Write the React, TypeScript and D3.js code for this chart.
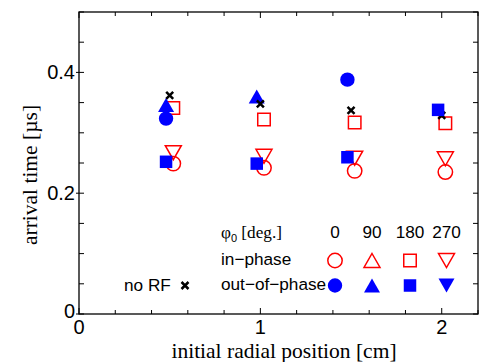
import React from 'react';
import * as d3 from 'd3';

// initial radial position [cm] of each measurement group
const positions = [0.5, 1, 1.5, 2];

// arrival time [µs]
const noRF = [0.362, 0.348, 0.337, 0.329];
const inPhase0 = [0.249, 0.242, 0.237, 0.235];
const inPhase180 = [0.341, 0.322, 0.317, 0.316];
const inPhase270 = [0.267, 0.261, 0.258, 0.257];
const outPhase0 = [0.3235, null, 0.388, null];
const outPhase90 = [0.346, 0.36, null, null];
const outPhase180 = [0.252, 0.249, 0.2595, 0.338];

const phaseLabels = ['0', '90', '180', '270'];
const xTickLabels = [0, 1, 2];
const yTickLabels = [0, 0.2, 0.4];

const RED = '#ff0000';
const BLUE = '#0000ff';

const width = 483;
const height = 362;
const marginLeft = 79;
const marginRight = 5;
const marginTop = 12;
const marginBottom = 48;

const x = d3.scaleLinear().domain([0, 2.2]).range([marginLeft, width - marginRight]);
const y = d3.scaleLinear().domain([0, 0.5]).range([height - marginBottom, marginTop]);

const shift = 0.02;

function circle(cx, cy, r) {
  return `M${cx - r},${cy}a${r},${r} 0 1,0 ${2 * r},0a${r},${r} 0 1,0 ${-2 * r},0Z`;
}
function square(cx, cy, s) {
  const h = s / 2;
  return `M${cx - h},${cy - h}h${s}v${s}h${-s}Z`;
}
function triUp(cx, cy, w, h) {
  return `M${cx},${cy - h / 2}L${cx + w / 2},${cy + h / 2}L${cx - w / 2},${cy + h / 2}Z`;
}
function triDown(cx, cy, w, h) {
  return `M${cx - w / 2},${cy - h / 2}L${cx + w / 2},${cy - h / 2}L${cx},${cy + h / 2}Z`;
}
function cross(cx, cy, s) {
  const h = s / 2;
  return `M${cx - h},${cy - h}L${cx + h},${cy + h}M${cx + h},${cy - h}L${cx - h},${cy + h}`;
}

const shapes = {
  circle: (cx, cy) => circle(cx, cy, 7.2),
  square: (cx, cy) => square(cx, cy, 12.5),
  up: (cx, cy) => triUp(cx, cy, 16, 14),
  down: (cx, cy) => triDown(cx, cy, 16, 14),
};

function Series({ values, dx, shape, filled }) {
  return (
    <g>
      {values.map((v, i) =>
        v == null ? null : (
          <path
            key={i}
            d={shapes[shape](x(positions[i] + dx), y(v))}
            fill={filled ? BLUE : 'none'}
            stroke={filled ? 'none' : RED}
            strokeWidth={1.5}
          />
        )
      )}
    </g>
  );
}

export default function App() {
  const xMinor = d3.range(0, 2.2001, 0.2);
  const yMinor = d3.range(0, 0.5001, 0.05);
  const x0 = x(0), x1 = x(2.2), yb = y(0), yt = y(0.5);
  const isMajorX = (t) => Math.abs(t - Math.round(t)) < 1e-6;
  const isMajorY = (t) => Math.abs(t * 5 - Math.round(t * 5)) < 1e-6;

  const legendCols = [335, 372, 410, 446.5];
  const legendShapes = ['circle', 'up', 'square', 'down'];
  const rowHead = 237.5, rowIn = 260.5, rowOut = 285.5;

  return (
    <svg width={width} height={height} style={{ position: 'absolute', left: 0, top: 0, background: '#fff' }}>
      {/* frame */}
      <rect x={x0} y={yt} width={x1 - x0} height={yb - yt} fill="none" stroke="#000" strokeWidth={1.3} />

      {/* x ticks, bottom and top */}
      {xMinor.map((t, i) => {
        const len = isMajorX(t) ? 6 : 4;
        return (
          <g key={'xt' + i} stroke="#000" strokeWidth={1}>
            <line x1={x(t)} x2={x(t)} y1={yb} y2={yb - len} />
            <line x1={x(t)} x2={x(t)} y1={yt} y2={yt + len} />
          </g>
        );
      })}
      {/* y ticks, left and right */}
      {yMinor.map((t, i) => {
        const major = isMajorY(t);
        return (
          <g key={'yt' + i} stroke="#000" strokeWidth={1}>
            <line x1={x0 - (major ? 3 : 0)} x2={x0 + 5} y1={y(t)} y2={y(t)} />
            <line x1={x1} x2={x1 - 5} y1={y(t)} y2={y(t)} />
          </g>
        );
      })}

      {/* tick labels */}
      <g fontFamily="'Liberation Sans', Arial, sans-serif" fontSize={20} fill="#000">
        {xTickLabels.map((t) => (
          <text key={'xl' + t} x={x(t)} y={334} textAnchor="middle">{t}</text>
        ))}
        {yTickLabels.map((t) => (
          <text key={'yl' + t} x={75} y={y(t) + (t === 0 ? 4 : 7)} textAnchor="end">{t === 0 ? '0' : t.toFixed(1)}</text>
        ))}
      </g>

      {/* axis titles */}
      <g fontFamily="'Liberation Serif', 'Times New Roman', serif" fontSize={21.5} fill="#000">
        <text x={284} y={358} textAnchor="middle">initial radial position [cm]</text>
        <text transform={`translate(37,175) rotate(-90)`} textAnchor="middle">arrival time [µs]</text>
      </g>

      {/* data: in-phase (open red) */}
      <Series values={inPhase0} dx={shift} shape="circle" filled={false} />
      <Series values={inPhase180} dx={shift} shape="square" filled={false} />
      <Series values={inPhase270} dx={shift} shape="down" filled={false} />
      {/* out-of-phase (filled blue) */}
      <Series values={outPhase90} dx={-shift} shape="up" filled />
      <Series values={outPhase0} dx={-shift} shape="circle" filled />
      {/* no RF */}
      <g stroke="#000" strokeWidth={2.5}>
        {noRF.map((v, i) => (
          <path key={'nr' + i} d={cross(x(positions[i]), y(v), 7)} />
        ))}
      </g>
      <Series values={outPhase180} dx={-shift} shape="square" filled />

      {/* legend */}
      <g fontFamily="'Liberation Sans', Arial, sans-serif" fontSize={17.2} fill="#000">
        <text x={221} y={rowHead}>
          <tspan fontFamily="'Liberation Serif', serif">φ</tspan>
          <tspan fontSize={11} dy={4}>0</tspan>
          <tspan fontFamily="'Liberation Serif', serif" dy={-4}> [deg.]</tspan>
        </text>
        {phaseLabels.map((p, i) => (
          <text key={'pl' + i} x={legendCols[i]} y={rowHead} textAnchor="middle">{p}</text>
        ))}
        <text x={221} y={rowIn + 4}>in−phase</text>
        <text x={221} y={rowOut + 4.5}>out−of−phase</text>
        <text x={124} y={rowOut + 5}>no RF</text>
      </g>
      {legendShapes.map((s, i) => (
        <path key={'li' + i} d={shapes[s](legendCols[i], rowIn)} fill="none" stroke={RED} strokeWidth={1.5} />
      ))}
      {legendShapes.map((s, i) => (
        <path key={'lo' + i} d={shapes[s](legendCols[i], rowOut)} fill={BLUE} />
      ))}
      <path d={cross(185, rowOut, 7)} stroke="#000" strokeWidth={2.5} />
    </svg>
  );
}
